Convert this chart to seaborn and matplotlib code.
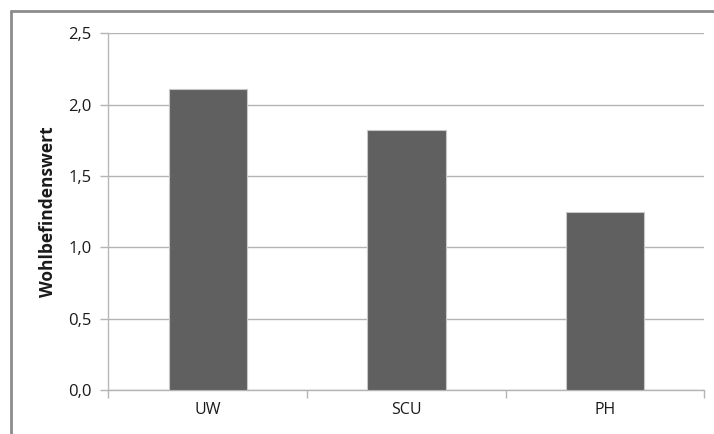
import matplotlib
matplotlib.use("Agg")
import matplotlib.pyplot as plt
from matplotlib.lines import Line2D
from matplotlib.ticker import FuncFormatter, FixedLocator
import seaborn as sns
import pandas as pd

categories = ["UW", "SCU", "PH"]
values = [2.11, 1.82, 1.25]
y_ticks = [0.0, 0.5, 1.0, 1.5, 2.0, 2.5]
y_label = "Wohlbefindenswert"

sns.set_theme(style="white")
plt.rcParams["font.family"] = ["Open Sans", "DejaVu Sans"]

df = pd.DataFrame({"Kategorie": categories, "Wert": values})

fig = plt.figure(figsize=(7.14, 4.34), dpi=100)
ax = fig.add_axes([108.5 / 714, 1 - 390 / 434, (704.3 - 108.5) / 714, (390 - 33.3) / 434])

sns.barplot(data=df, x="Kategorie", y="Wert", color="#606060", width=0.395,
            edgecolor="#c8c8c8", linewidth=0.8, saturation=1, ax=ax, zorder=3)

ax.set_xlim(-0.5, 2.5)
ax.set_ylim(0, 2.5)
ax.set_yticks(y_ticks)
ax.yaxis.set_major_formatter(FuncFormatter(lambda v, _: f"{v:.1f}".replace(".", ",")))
ax.yaxis.grid(True, color="#b4b4b4", linewidth=1.0, zorder=0)
ax.set_axisbelow(True)

for s in ["top", "right"]:
    ax.spines[s].set_visible(False)
ax.spines["left"].set_color("#b8b8b8")
ax.spines["bottom"].set_color("#b4b4b4")
ax.spines["left"].set_linewidth(1.0)
ax.spines["bottom"].set_linewidth(1.0)

ax.tick_params(axis="y", which="major", direction="out", length=6, width=1.0,
               color="#b4b4b4", labelsize=12, labelcolor="#1a1a1a", pad=6, left=True)
ax.tick_params(axis="x", which="major", length=0, labelsize=11.5, labelcolor="#1a1a1a", pad=9)
ax.xaxis.set_minor_locator(FixedLocator([-0.5, 0.5, 1.5, 2.5]))
ax.tick_params(axis="x", which="minor", direction="out", length=6, width=1.0,
               color="#b4b4b4", bottom=True)

ax.set_xlabel("")
ax.set_ylabel(y_label, fontsize=12.5, fontweight="bold", color="#1a1a1a", labelpad=8)

# outer chart-area frame
frame_kw = dict(color="#8c8c8c", linewidth=2.0, transform=fig.transFigure)
fig.add_artist(Line2D([10.5 / 714, 10.5 / 714], [0, 1 - 11 / 434], **frame_kw))
fig.add_artist(Line2D([10.5 / 714, 1], [1 - 11 / 434, 1 - 11 / 434], **frame_kw))

fig.savefig("out.png", dpi=100)
